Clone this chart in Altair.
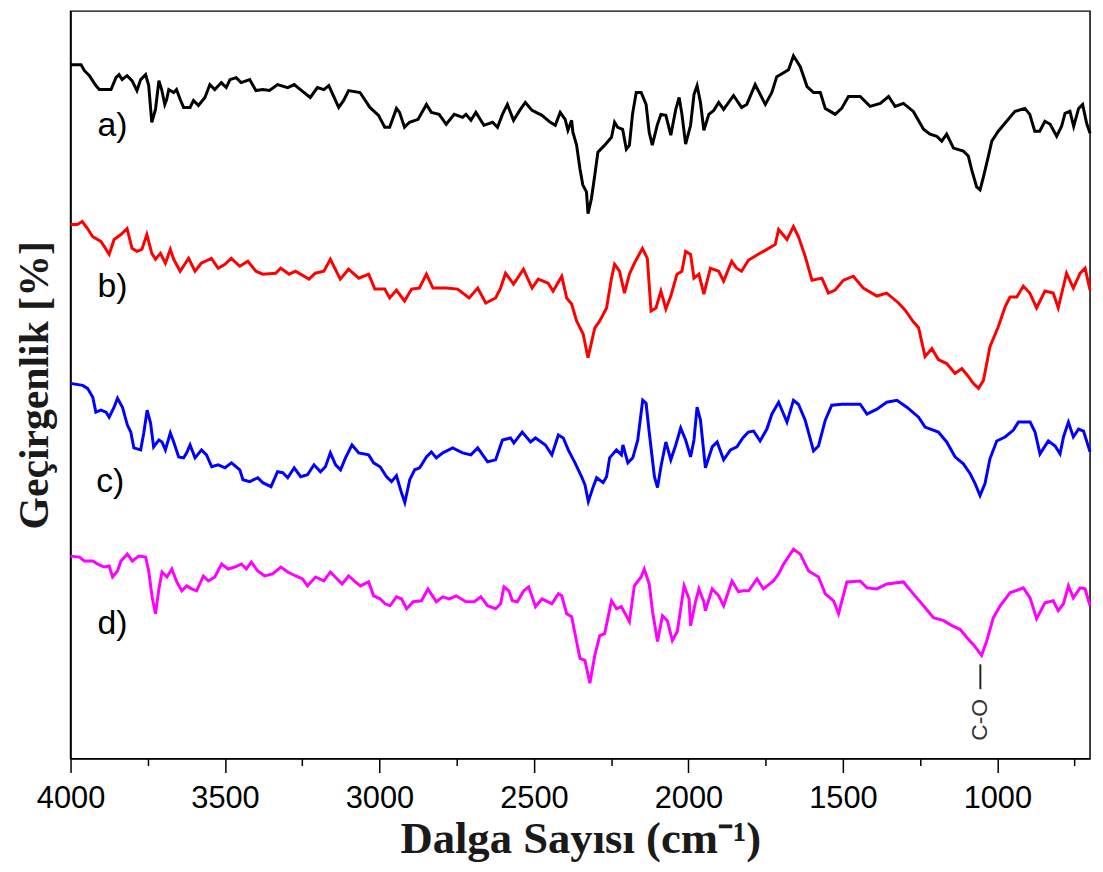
import altair as alt
import pandas as pd

# ---- spectrum a) (black) ----
a_wn = [4000,3966,3955,3939,3918,3907,3869,3853,3843,3833,3817,3801,3785,3773,3757,3747,3737,3725,3714,3705,
        3695,3689,3682,3666,3657,3645,3634,3613,3602,3586,3565,3549,3533,3512,3496,3484,3464,3448,3420,3400,
        3378,3356,3330,3297,3276,3256,3224,3201,3180,3164,3132,3116,3100,3063,3031,3003,2983,2967,2945,2935,
        2919,2903,2875,2848,2832,2807,2784,2758,2731,2720,2704,2688,2662,2634,2618,2602,2586,2566,2544,2528,
        2506,2474,2447,2431,2415,2399,2390,2378,2374,2362,2351,2342,2330,2325,2314,2303,2293,2271,2249,2239,
        2229,2213,2201,2191,2181,2169,2153,2137,2127,2117,2101,2089,2073,2057,2041,2030,2021,2009,1993,1982,
        1972,1961,1950,1934,1918,1902,1886,1854,1828,1811,1784,1751,1730,1714,1692,1676,1660,1638,1616,1595,
        1573,1557,1541,1525,1504,1482,1444,1412,1379,1352,1331,1304,1272,1239,1218,1196,1180,1164,1142,1110,
        1094,1083,1067,1056,1045,1029,1018,997,970,943,911,895,879,863,846,829,808,792,781,765,
        753,737,724,711,700]
a_t = [699,699,693,688,678,674,674,686,689,684,688,683,673,684,689,678,641,654,683,674,
       659,664,674,671,674,664,656,656,663,658,666,679,674,681,676,684,686,681,684,673,
       674,673,679,676,679,674,666,676,674,678,656,663,673,671,656,648,636,636,655,651,
       636,641,644,659,651,649,639,649,646,649,643,651,638,641,636,649,659,643,654,661,
       653,648,641,638,651,644,633,643,631,618,594,578,571,549,564,588,611,618,626,641,
       636,634,614,618,649,671,671,659,631,618,638,649,648,628,654,666,649,619,638,669,
       678,661,633,649,653,661,654,668,656,659,679,659,671,687,691,694,708,697,677,671,
       671,655,652,649,655,667,667,657,660,667,657,660,652,634,629,627,622,629,615,612,
       607,593,576,573,586,607,622,632,642,652,655,649,632,632,642,639,627,637,650,652,
       637,655,659,640,630]

# ---- spectrum b) (red) ----
b_wn = [4000,3978,3962,3945,3929,3902,3891,3875,3859,3837,3817,3801,3785,3769,3753,3737,3725,3709,3693,3677,
        3666,3645,3618,3597,3577,3544,3522,3500,3480,3452,3426,3400,3378,3336,3320,3292,3272,3228,3208,3180,
        3159,3127,3100,3067,3035,3015,2983,2967,2945,2919,2896,2871,2848,2827,2784,2747,2710,2682,2656,2624,
        2608,2592,2566,2534,2506,2486,2454,2438,2410,2394,2378,2362,2341,2325,2303,2287,2265,2249,2239,2223,
        2207,2191,2175,2149,2133,2121,2105,2089,2073,2057,2037,2021,2009,1993,1982,1966,1950,1929,1902,1886,
        1860,1844,1828,1806,1774,1746,1719,1708,1681,1660,1644,1622,1600,1568,1547,1525,1498,1466,1434,1390,
        1358,1320,1299,1272,1255,1234,1212,1191,1164,1137,1115,1094,1078,1061,1045,1024,997,975,959,937,
        916,895,873,846,819,803,776,754,732,716,700]
b_t = [538,538,541,534,526,521,516,508,523,528,534,514,511,513,528,509,503,509,499,513,
       503,491,504,491,499,504,494,498,504,496,501,491,488,489,494,488,491,483,489,491,
       503,483,493,484,488,473,473,464,472,461,473,474,488,474,474,473,464,474,459,464,
       474,489,478,493,474,483,479,471,486,464,458,441,428,404,434,441,454,484,498,491,
       469,488,499,514,504,451,454,471,453,466,488,491,511,508,484,488,468,494,491,481,
       501,494,491,502,508,513,518,533,523,536,526,506,482,484,469,472,482,486,474,466,
       469,459,452,440,434,405,413,402,398,388,393,385,378,373,381,415,435,455,465,465,
       476,469,454,471,469,454,489,474,489,494,472]

# ---- spectrum c) (blue) ----
c_wn = [4000,3961,3945,3928,3918,3902,3885,3875,3859,3848,3832,3816,3805,3795,3773,3763,3752,3741,3731,3714,
        3704,3693,3677,3666,3650,3634,3624,3613,3597,3576,3560,3543,3522,3500,3479,3452,3442,3420,3394,3378,
        3351,3330,3313,3297,3276,3255,3233,3212,3191,3175,3159,3142,3126,3110,3089,3067,3035,3019,2998,2977,
        2961,2945,2929,2918,2902,2886,2870,2848,2832,2816,2795,2763,2731,2704,2682,2650,2624,2602,2576,2565,
        2538,2511,2495,2463,2442,2421,2405,2389,2367,2346,2335,2324,2308,2297,2276,2265,2255,2233,2217,2212,
        2196,2180,2164,2148,2137,2127,2110,2100,2089,2073,2057,2041,2025,2009,1993,1982,1972,1961,1945,1923,
        1907,1886,1864,1843,1824,1806,1789,1768,1746,1730,1708,1681,1660,1644,1622,1595,1579,1557,1536,1503,
        1444,1422,1390,1358,1325,1293,1255,1234,1191,1164,1137,1110,1088,1072,1056,1040,1024,1002,975,948,
        932,894,878,862,835,813,797,786,770,754,737,721,700]
c_t = [378,376,373,364,349,351,349,344,354,363,354,336,329,313,311,328,351,338,314,321,
       319,311,328,319,304,303,308,316,303,311,306,294,296,293,298,291,281,279,283,278,
       274,289,288,283,293,284,286,296,289,294,308,296,291,303,316,308,306,298,294,284,
       279,285,268,258,281,291,293,304,309,303,308,313,308,306,313,299,301,321,323,318,
       329,319,323,316,306,326,323,311,298,284,276,259,274,283,278,284,303,311,306,316,
       298,303,321,361,358,329,284,273,294,319,301,316,333,321,304,321,354,341,293,314,
       319,301,311,314,323,329,330,320,332,347,359,339,361,357,341,310,315,341,356,357,
       357,347,352,359,361,354,344,334,329,319,304,297,287,277,265,277,302,320,324,331,
       339,339,329,307,320,315,307,324,339,324,332,330,309]

# ---- spectrum d) (magenta) ----
d_wn = [4000,3971,3955,3928,3912,3891,3875,3864,3848,3837,3816,3800,3779,3757,3747,3736,3725,3714,3704,3688,
        3672,3656,3640,3624,3608,3592,3570,3554,3533,3511,3490,3468,3447,3431,3415,3394,3372,3346,3319,3297,
        3271,3249,3233,3207,3180,3159,3137,3121,3100,3078,3062,3035,3019,2998,2982,2966,2945,2929,2912,2891,
        2864,2843,2816,2795,2774,2752,2720,2693,2672,2650,2624,2608,2597,2581,2570,2554,2533,2517,2495,2474,
        2442,2421,2410,2394,2378,2362,2351,2335,2319,2303,2287,2271,2249,2233,2217,2201,2191,2175,2153,2143,
        2127,2116,2100,2084,2068,2052,2036,2014,1998,1993,1977,1966,1950,1945,1923,1902,1886,1859,1838,1824,
        1805,1778,1757,1725,1708,1692,1660,1638,1611,1579,1557,1530,1514,1487,1444,1422,1390,1358,1304,1272,
        1239,1207,1174,1147,1120,1099,1078,1051,1034,1013,991,959,916,894,873,846,819,803,786,770,
        754,732,716,700]
d_t = [204,203,199,199,196,193,194,183,189,199,206,199,204,203,189,163,146,171,188,183,
       191,178,169,174,171,169,184,179,183,196,191,193,196,191,198,189,184,186,193,188,
       184,181,174,183,179,188,181,176,184,178,174,178,164,161,156,154,163,161,151,158,
       159,171,158,163,161,164,158,158,163,154,151,156,173,169,159,158,169,173,153,161,
       156,166,164,146,143,118,101,99,76,104,124,126,159,151,153,144,138,174,183,191,
       176,148,118,144,139,119,128,174,161,134,158,171,158,149,171,164,154,179,168,169,
       169,181,171,179,186,196,211,206,189,183,166,159,146,178,179,172,171,176,178,166,
       154,142,139,134,130,122,115,104,119,142,154,167,172,162,141,157,159,149,156,174,
       162,172,171,154]

series_names = ["a", "b", "c", "d"]
series_colors = ["#000000", "#ff0000", "#0000ff", "#ff00ff"]

# series labels
label_text = ["a)", "b)", "c)", "d)"]
label_wn = [3913, 3913, 3917, 3913]
label_t = [637, 475, 279, 136]

# C-O annotation
peak_wn = [1055]
peak_t0 = [70]
peak_t1 = [95]
peak_label_t = [39]
peak_text = ["C-O"]

major_ticks = [4000, 3500, 3000, 2500, 2000, 1500, 1000]
minor_ticks = [3750, 3250, 2750, 2250, 1750, 1250, 750]

frames = []
for name, wn, t in zip(series_names, [a_wn, b_wn, c_wn, d_wn], [a_t, b_t, c_t, d_t]):
    frames.append(pd.DataFrame({"wn": wn, "T": t, "s": name}))
spectra = pd.concat(frames, ignore_index=True)

labels_df = pd.DataFrame({"wn": label_wn, "T": label_t, "txt": label_text})
peak_df = pd.DataFrame({"wn": peak_wn, "t0": peak_t0, "t1": peak_t1,
                        "tl": peak_label_t, "txt": peak_text})

x_scale = alt.Scale(domain=[700, 4000], reverse=True, nice=False, zero=False)
y_scale = alt.Scale(domain=[0, 753], nice=False, zero=False)

SERIF = "Liberation Serif"
SANS = "Liberation Sans"

y_axis = alt.Axis(
    title="Geçirgenlik [%]", labels=False, ticks=False, grid=False,
    domainColor="black", domainWidth=1.5, orient="left",
    titleFont=SERIF, titleFontWeight="bold", titleFontSize=42,
    titleColor="#1a1a1a", titlePadding=14)

lines = alt.Chart(spectra).mark_line(strokeWidth=3).encode(
    x=alt.X("wn:Q", scale=x_scale, axis=alt.Axis(
        values=major_ticks, format="d", title="Dalga Sayısı (cm⁻¹)",
        tickSize=14, tickWidth=1.5, tickColor="black",
        domainColor="black", domainWidth=1.5, grid=False,
        labelFont=SANS, labelFontSize=31, labelColor="black", labelPadding=11,
        labelFlush=False, labelOverlap=False,
        titleFont=SERIF, titleFontWeight="bold", titleFontSize=45,
        titleColor="#1a1a1a", titleY=95, titleBaseline="alphabetic")),
    y=alt.Y("T:Q", scale=y_scale, axis=y_axis),
    color=alt.Color("s:N", scale=alt.Scale(domain=series_names, range=series_colors), legend=None),
)

labels = alt.Chart(labels_df).mark_text(
    align="left", baseline="middle", font=SANS, fontSize=34, color="black"
).encode(
    x=alt.X("wn:Q", scale=x_scale, axis=alt.Axis(
        values=minor_ticks, labels=False, domain=False, grid=False,
        tickSize=7, tickWidth=1.5, tickColor="black", title=None, orient="bottom")),
    y=alt.Y("T:Q", scale=y_scale, axis=y_axis),
    text="txt:N",
)

rule = alt.Chart(peak_df).mark_rule(color="#222222", strokeWidth=2).encode(
    x=alt.X("wn:Q", scale=x_scale, axis=None),
    y=alt.Y("t0:Q", scale=y_scale, axis=y_axis),
    y2="t1:Q",
)

peak_label = alt.Chart(peak_df).mark_text(
    angle=270, font=SANS, fontSize=23, color="#333333", align="center", baseline="middle"
).encode(
    x=alt.X("wn:Q", scale=x_scale, axis=None),
    y=alt.Y("tl:Q", scale=y_scale, axis=y_axis),
    text="txt:N",
)

chart = alt.layer(lines, labels, rule, peak_label).resolve_axis(
    x="independent", y="shared"
).properties(
    width=1027, height=753,
    autosize=alt.AutoSizeParams(type="none"),
    padding={"left": 63, "top": 0, "right": 5, "bottom": 103},
).configure_view(stroke="black", strokeWidth=1.5)

chart.save("out.html", embed_options={"renderer": "svg", "actions": False})
